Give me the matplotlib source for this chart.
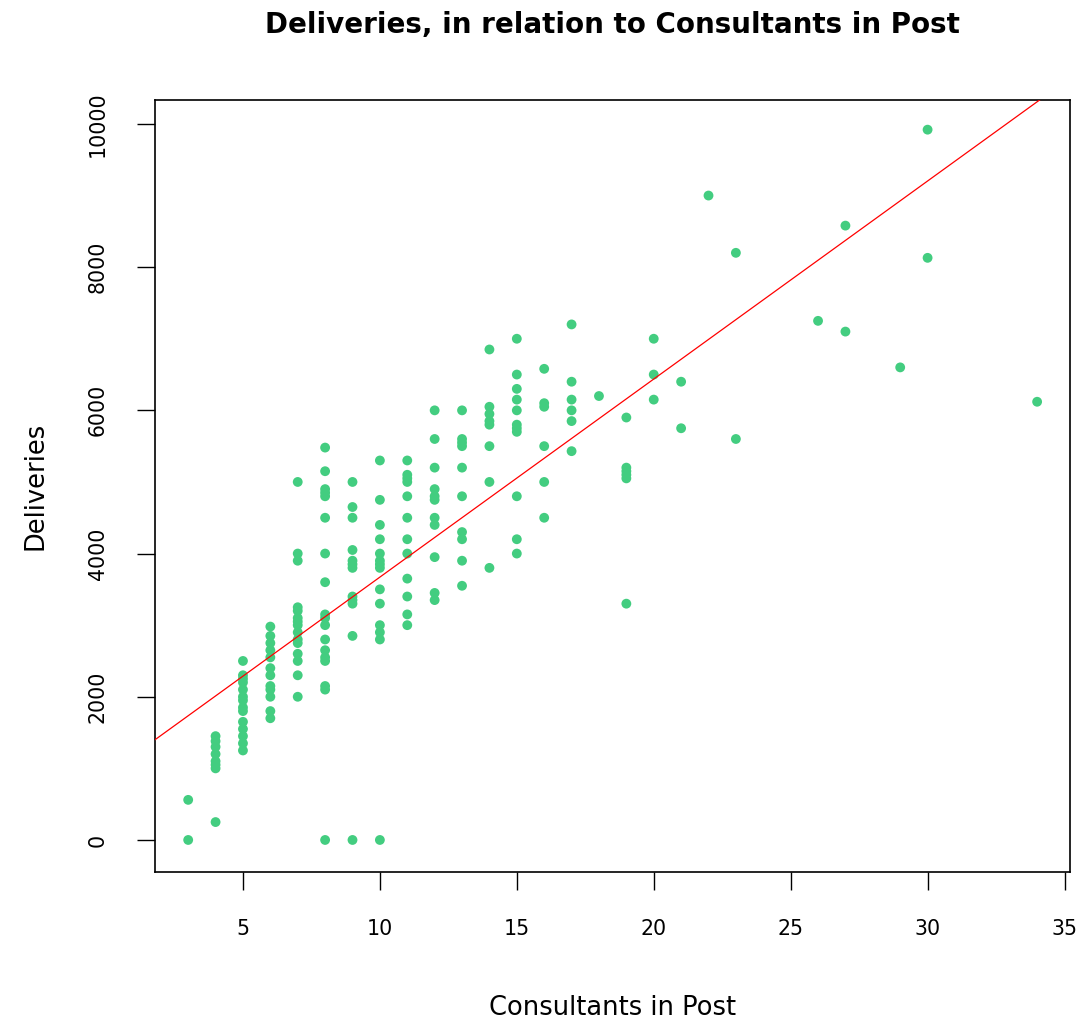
import numpy as np
import matplotlib.pyplot as plt

# deliveries per unit, grouped by number of consultants in post
consultants = [3, 4, 5, 6, 7, 8, 9, 10, 11, 12, 13, 14, 15, 16, 17, 18, 19, 20,
               21, 22, 23, 26, 27, 29, 30, 34]
deliveries = [
    [560, 0],
    [1450, 1380, 1300, 1200, 1100, 1050, 1000, 250],
    [2500, 2300, 2250, 2200, 2100, 2000, 1950, 1850, 1800, 1650, 1550, 1450, 1350, 1250],
    [2980, 2850, 2750, 2650, 2550, 2400, 2300, 2150, 2100, 2000, 1800, 1700],
    [5000, 4000, 3900, 3250, 3200, 3100, 3050, 3000, 2900, 2800, 2750, 2600, 2500, 2300, 2000],
    [5480, 5150, 4900, 4850, 4800, 4500, 4000, 3600, 3150, 3100, 3000, 2800, 2650, 2550,
     2500, 2150, 2100, 0],
    [5000, 4650, 4500, 4050, 3900, 3850, 3800, 3400, 3350, 3300, 2850, 0],
    [5300, 4750, 4400, 4200, 4000, 3900, 3850, 3800, 3500, 3300, 3000, 2900, 2800, 0],
    [5300, 5100, 5050, 5000, 4800, 4500, 4200, 4000, 3650, 3400, 3150, 3000],
    [6000, 5600, 5200, 4900, 4800, 4750, 4500, 4400, 3950, 3450, 3350],
    [6000, 5600, 5550, 5500, 5200, 4800, 4300, 4200, 3900, 3550],
    [6850, 6050, 5950, 5850, 5800, 5500, 5000, 3800],
    [7000, 6500, 6300, 6150, 6000, 5800, 5750, 5700, 4800, 4200, 4000],
    [6580, 6100, 6050, 5500, 5000, 4500],
    [7200, 6400, 6150, 6000, 5850, 5430],
    [6200],
    [5900, 5200, 5150, 5100, 5050, 3300],
    [7000, 6500, 6150],
    [6400, 5750],
    [9000],
    [8200, 5600],
    [7250],
    [8580, 7100],
    [6600],
    [9920, 8130],
    [6120],
]

# regression line (lm fit on the full data)
fit_intercept = 905
fit_slope = 276.6

x = np.concatenate([[c] * len(d) for c, d in zip(consultants, deliveries)])
y = np.concatenate(deliveries)

fig = plt.figure(figsize=(10.82, 10.22), dpi=100)
ax = fig.add_axes([0.1433, 0.1468, 0.8456, 0.7554])

ax.scatter(x, y, s=50, color="#43CD80", edgecolors="none", zorder=3)
ax.axline((0, fit_intercept), slope=fit_slope, color="red", lw=0.9, zorder=4)

ax.set_xlim(1.79, 35.2)
ax.set_ylim(-447, 10335)
ax.set_xticks([5, 10, 15, 20, 25, 30, 35])
ax.set_yticks([0, 2000, 4000, 6000, 8000, 10000])
ax.tick_params(direction="out", length=13, width=1, labelsize=14.8, pad=21)
for lab in ax.get_yticklabels():
    lab.set_rotation(90)
    lab.set_va("center")
for s in ax.spines.values():
    s.set_linewidth(1.2)

ax.set_xlabel("Consultants in Post", fontsize=18.5)
ax.set_ylabel("Deliveries", fontsize=18.5)
ax.xaxis.set_label_coords(0.5, -0.159)
ax.yaxis.set_label_coords(-0.117, 0.5)

# title centred over the plot region, like base R
ax.text(0.5, 1.097, "Deliveries, in relation to Consultants in Post",
        transform=ax.transAxes, ha="center", va="center",
        fontsize=20, fontweight="bold")

fig.savefig("out.png", dpi=100)
